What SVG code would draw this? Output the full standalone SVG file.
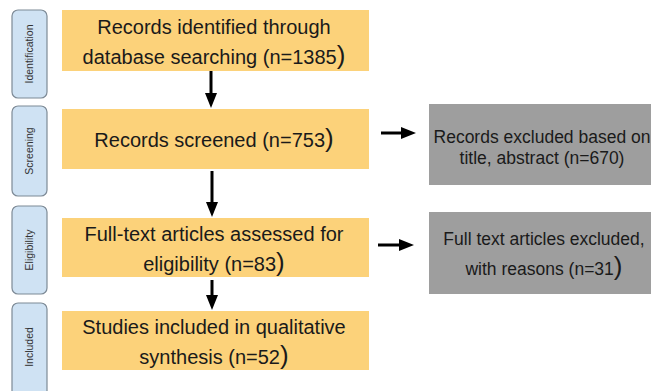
<svg xmlns="http://www.w3.org/2000/svg" width="651" height="391" viewBox="0 0 651 391">
  <style>
    .stage rect { fill: #cfe2f3; stroke: #7d8a96; stroke-width: 1.2; }
    .stage text { font-family: "Liberation Sans", Arial, sans-serif; font-size: 10.5px; fill: #333; text-anchor: middle; }
    .step rect { fill: #fcd27a; }
    .step text { font-family: "Liberation Sans", Arial, sans-serif; font-size: 20px; fill: #1a1a1a; text-anchor: middle; }
    .excl rect { fill: #9e9e9e; }
    .excl text { font-family: "Liberation Sans", Arial, sans-serif; font-size: 17.5px; fill: #1a1a1a; text-anchor: middle; }
    .big { font-size: 26px; }
    .conn line { stroke: #000; stroke-width: 3; }
  </style>
  <defs>
    <marker id="head" markerWidth="5" markerHeight="4" refX="1" refY="2" orient="auto" markerUnits="strokeWidth">
      <path d="M0,0 L5,2 L0,4 z" fill="#000"/>
    </marker>
  </defs>
  <rect width="651" height="391" fill="#fff"/>

  <!-- stage labels -->
  <g id="stage-identification" class="stage">
    <rect x="12" y="10" width="35" height="88" rx="6"/>
    <text transform="translate(33,54) rotate(-90)">Identification</text>
  </g>
  <g id="stage-screening" class="stage">
    <rect x="12" y="106" width="35" height="90" rx="6"/>
    <text transform="translate(33,151) rotate(-90)">Screening</text>
  </g>
  <g id="stage-eligibility" class="stage">
    <rect x="12" y="206" width="35" height="88" rx="6"/>
    <text transform="translate(33,250) rotate(-90)">Eligibility</text>
  </g>
  <g id="stage-included" class="stage">
    <rect x="12" y="303" width="35" height="94" rx="6"/>
    <text transform="translate(33,347) rotate(-90)">Included</text>
  </g>

  <!-- flow steps -->
  <g id="identified" class="step">
    <rect x="62" y="10" width="307" height="61"/>
    <text x="214" y="34">Records identified through</text>
    <text x="214" y="64">database searching (n=1385<tspan class="big">)</tspan></text>
  </g>
  <g id="screened" class="step">
    <rect x="62" y="109" width="307" height="60"/>
    <text x="214" y="147">Records screened (n=753<tspan class="big">)</tspan></text>
  </g>
  <g id="assessed" class="step">
    <rect x="62" y="218" width="307" height="59"/>
    <text x="214" y="241">Full-text articles assessed for</text>
    <text x="214" y="271">eligibility (n=83<tspan class="big">)</tspan></text>
  </g>
  <g id="included" class="step">
    <rect x="62" y="311" width="307" height="59"/>
    <text x="214" y="334">Studies included in qualitative</text>
    <text x="214" y="364">synthesis (n=52<tspan class="big">)</tspan></text>
  </g>

  <!-- exclusions -->
  <g id="excluded-title" class="excl">
    <rect x="429" y="104" width="230" height="81"/>
    <text x="542" y="143">Records excluded based on</text>
    <text x="542" y="164">title, abstract (n=670)</text>
  </g>
  <g id="excluded-fulltext" class="excl">
    <rect x="429" y="212" width="230" height="82"/>
    <text x="544" y="245">Full text articles excluded,</text>
    <text x="544" y="275">with reasons (n=31<tspan class="big">)</tspan></text>
  </g>

  <!-- connectors -->
  <g id="connectors" class="conn">
    <line x1="211" y1="71" x2="211" y2="96" marker-end="url(#head)"/>
    <line x1="212" y1="171" x2="212" y2="205" marker-end="url(#head)"/>
    <line x1="212" y1="280" x2="212" y2="298" marker-end="url(#head)"/>
    <line x1="381" y1="133" x2="404" y2="133" marker-end="url(#head)"/>
    <line x1="378" y1="245" x2="402" y2="245" marker-end="url(#head)"/>
  </g>
</svg>
